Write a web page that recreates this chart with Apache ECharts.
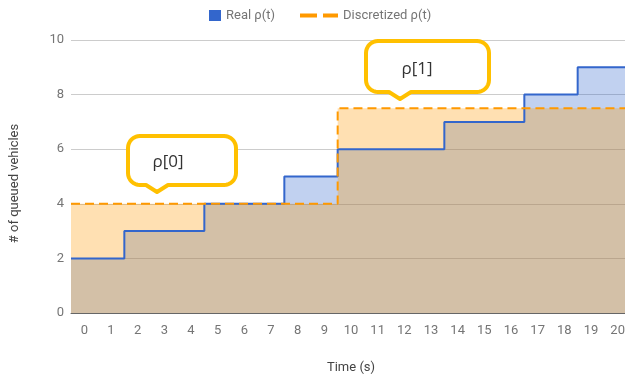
<!DOCTYPE html>
<html>
<head>
<meta charset="utf-8">
<script src="https://cdn.jsdelivr.net/npm/echarts@6/dist/echarts.min.js"></script>
<style>
html,body{margin:0;padding:0;background:#fff;overflow:hidden;width:625px;height:380px;}
#c{width:631px;height:380px;}
</style>
</head>
<body>
<div id="c"></div>
<script>
// ---- data ----
const categories = ['0','1','2','3','4','5','6','7','8','9','10','11','12','13','14','15','16','17','18','19','20'];
const realValues = [2,2,3,3,3,4,4,4,5,5,6,6,6,6,7,7,7,8,8,9,9];
const discretizedValues = [4,4,4,4,4,4,4,4,4,4,7.5,7.5,7.5,7.5,7.5,7.5,7.5,7.5,7.5,7.5,7.5];
const yTicks = [0,2,4,6,8,10];
const seriesNames = ['Real ρ(t)', 'Discretized ρ(t)'];
const calloutTexts = ['ρ[0]', 'ρ[1]'];

// build step points on band edges (band i spans i-0.5 .. i+0.5)
function stepData(vals){
  const d = vals.map((v,i)=>[i-0.5, v]);
  d.push([vals.length-0.5, vals[vals.length-1]]);
  return d;
}

const chart = echarts.init(document.getElementById('c'), null, {renderer:'canvas'});
const font = 'Roboto, "Noto Sans", Arial, sans-serif';

function arcPts(cx, cy, r, a0, a1, pts){
  const n = 8;
  for (let k = 0; k <= n; k++){
    const a = a0 + (a1 - a0) * k / n;
    pts.push([cx + r * Math.cos(a), cy + r * Math.sin(a)]);
  }
}
function calloutPoints(x, y, w, h, px, r){
  const b = y + h, R = x + w;
  const pts = [];
  arcPts(x + r, y + r, r, Math.PI, 1.5 * Math.PI, pts);
  arcPts(R - r, y + r, r, 1.5 * Math.PI, 2 * Math.PI, pts);
  arcPts(R - r, b - r, r, 0, 0.5 * Math.PI, pts);
  pts.push([px + 11, b]);
  pts.push([px, b + 7]);
  pts.push([px - 11, b]);
  arcPts(x + r, b - r, r, 0.5 * Math.PI, Math.PI, pts);
  return pts;
}

const boxes = [
  {x:128, y:136, w:108, h:49, px:157, tx:168, ty:162},
  {x:366, y:41, w:123, h:51, px:400, tx:417, ty:69}
];

const graphics = [];
boxes.forEach((b, i) => {
  graphics.push({
    type:'polygon', z:100,
    shape:{points: calloutPoints(b.x, b.y, b.w, b.h, b.px, 12)},
    style:{fill:'#fff', stroke:'#FFC000', lineWidth:4, lineJoin:'round'}
  });
  graphics.push({
    type:'text', z:101, x:b.tx, y:b.ty,
    style:{text: calloutTexts[i], fill:'#333', font:'17px "Open Sans", "Liberation Sans", sans-serif', align:'center', verticalAlign:'middle'}
  });
});

const legendText = {color:'#757575', fontSize:13, fontFamily:font};

chart.setOption({
  animation:false,
  backgroundColor:'#fff',
  grid:{left:71, right:0, top:40, bottom:67},
  legend:[
    {data:[seriesNames[0]], left:204, top:4, icon:'rect', itemWidth:12, itemHeight:11, itemGap:8, textStyle:legendText},
    {data:[seriesNames[1]], left:295, top:4, icon:'path://M0,0h17v4h-17zM23,0h15v4h-15z', itemWidth:38, itemHeight:4, itemGap:8, textStyle:legendText}
  ],
  xAxis:[
    {type:'category', data:categories, boundaryGap:true,
     axisLine:{show:true, onZero:false, lineStyle:{color:'#666', width:1}},
     axisTick:{show:false},
     axisLabel:{color:'#757575', fontSize:13, fontFamily:font, margin:11, interval:0},
     name:'Time (s)', nameLocation:'middle', nameGap:48,
     nameTextStyle:{color:'#444', fontSize:13, fontFamily:font},
     splitLine:{show:false}},
    {type:'value', min:-0.5, max:categories.length-0.5, show:false,
     splitLine:{show:false}}
  ],
  yAxis:{
    type:'value', min:yTicks[0], max:yTicks[yTicks.length-1], interval:2,
    axisLine:{show:false}, axisTick:{show:false},
    axisLabel:{color:'#757575', fontSize:13, fontFamily:font, margin:7},
    splitLine:{lineStyle:{color:'#cccccc', width:1}},
    name:'# of queued vehicles', nameLocation:'middle', nameGap:50,
    nameTextStyle:{color:'#444', fontSize:13, fontFamily:font, padding:[0,14,0,0]}
  },
  series:[
    {name:'area-real', type:'line', xAxisIndex:1, step:'end', data:stepData(realValues),
     showSymbol:false, symbol:'none', color:'#3366CC',
     lineStyle:{width:0, opacity:0},
     areaStyle:{color:'#3366CC', opacity:0.3}, z:1},
    {name:'area-disc', type:'line', xAxisIndex:1, step:'end', data:stepData(discretizedValues),
     showSymbol:false, symbol:'none', color:'#FF9900',
     lineStyle:{width:0, opacity:0},
     areaStyle:{color:'#FF9900', opacity:0.3}, z:2},
    {name:seriesNames[0], type:'line', xAxisIndex:1, step:'end', data:stepData(realValues),
     showSymbol:false, symbol:'none', color:'#3366CC',
     lineStyle:{color:'#3366CC', width:2}, z:3},
    {name:seriesNames[1], type:'line', xAxisIndex:1, step:'end', data:stepData(discretizedValues),
     showSymbol:false, symbol:'none', color:'#FF9900',
     lineStyle:{color:'#FF9900', width:2, type:[9,5]}, z:4}
  ],
  graphic: graphics
});
</script>
</body>
</html>
